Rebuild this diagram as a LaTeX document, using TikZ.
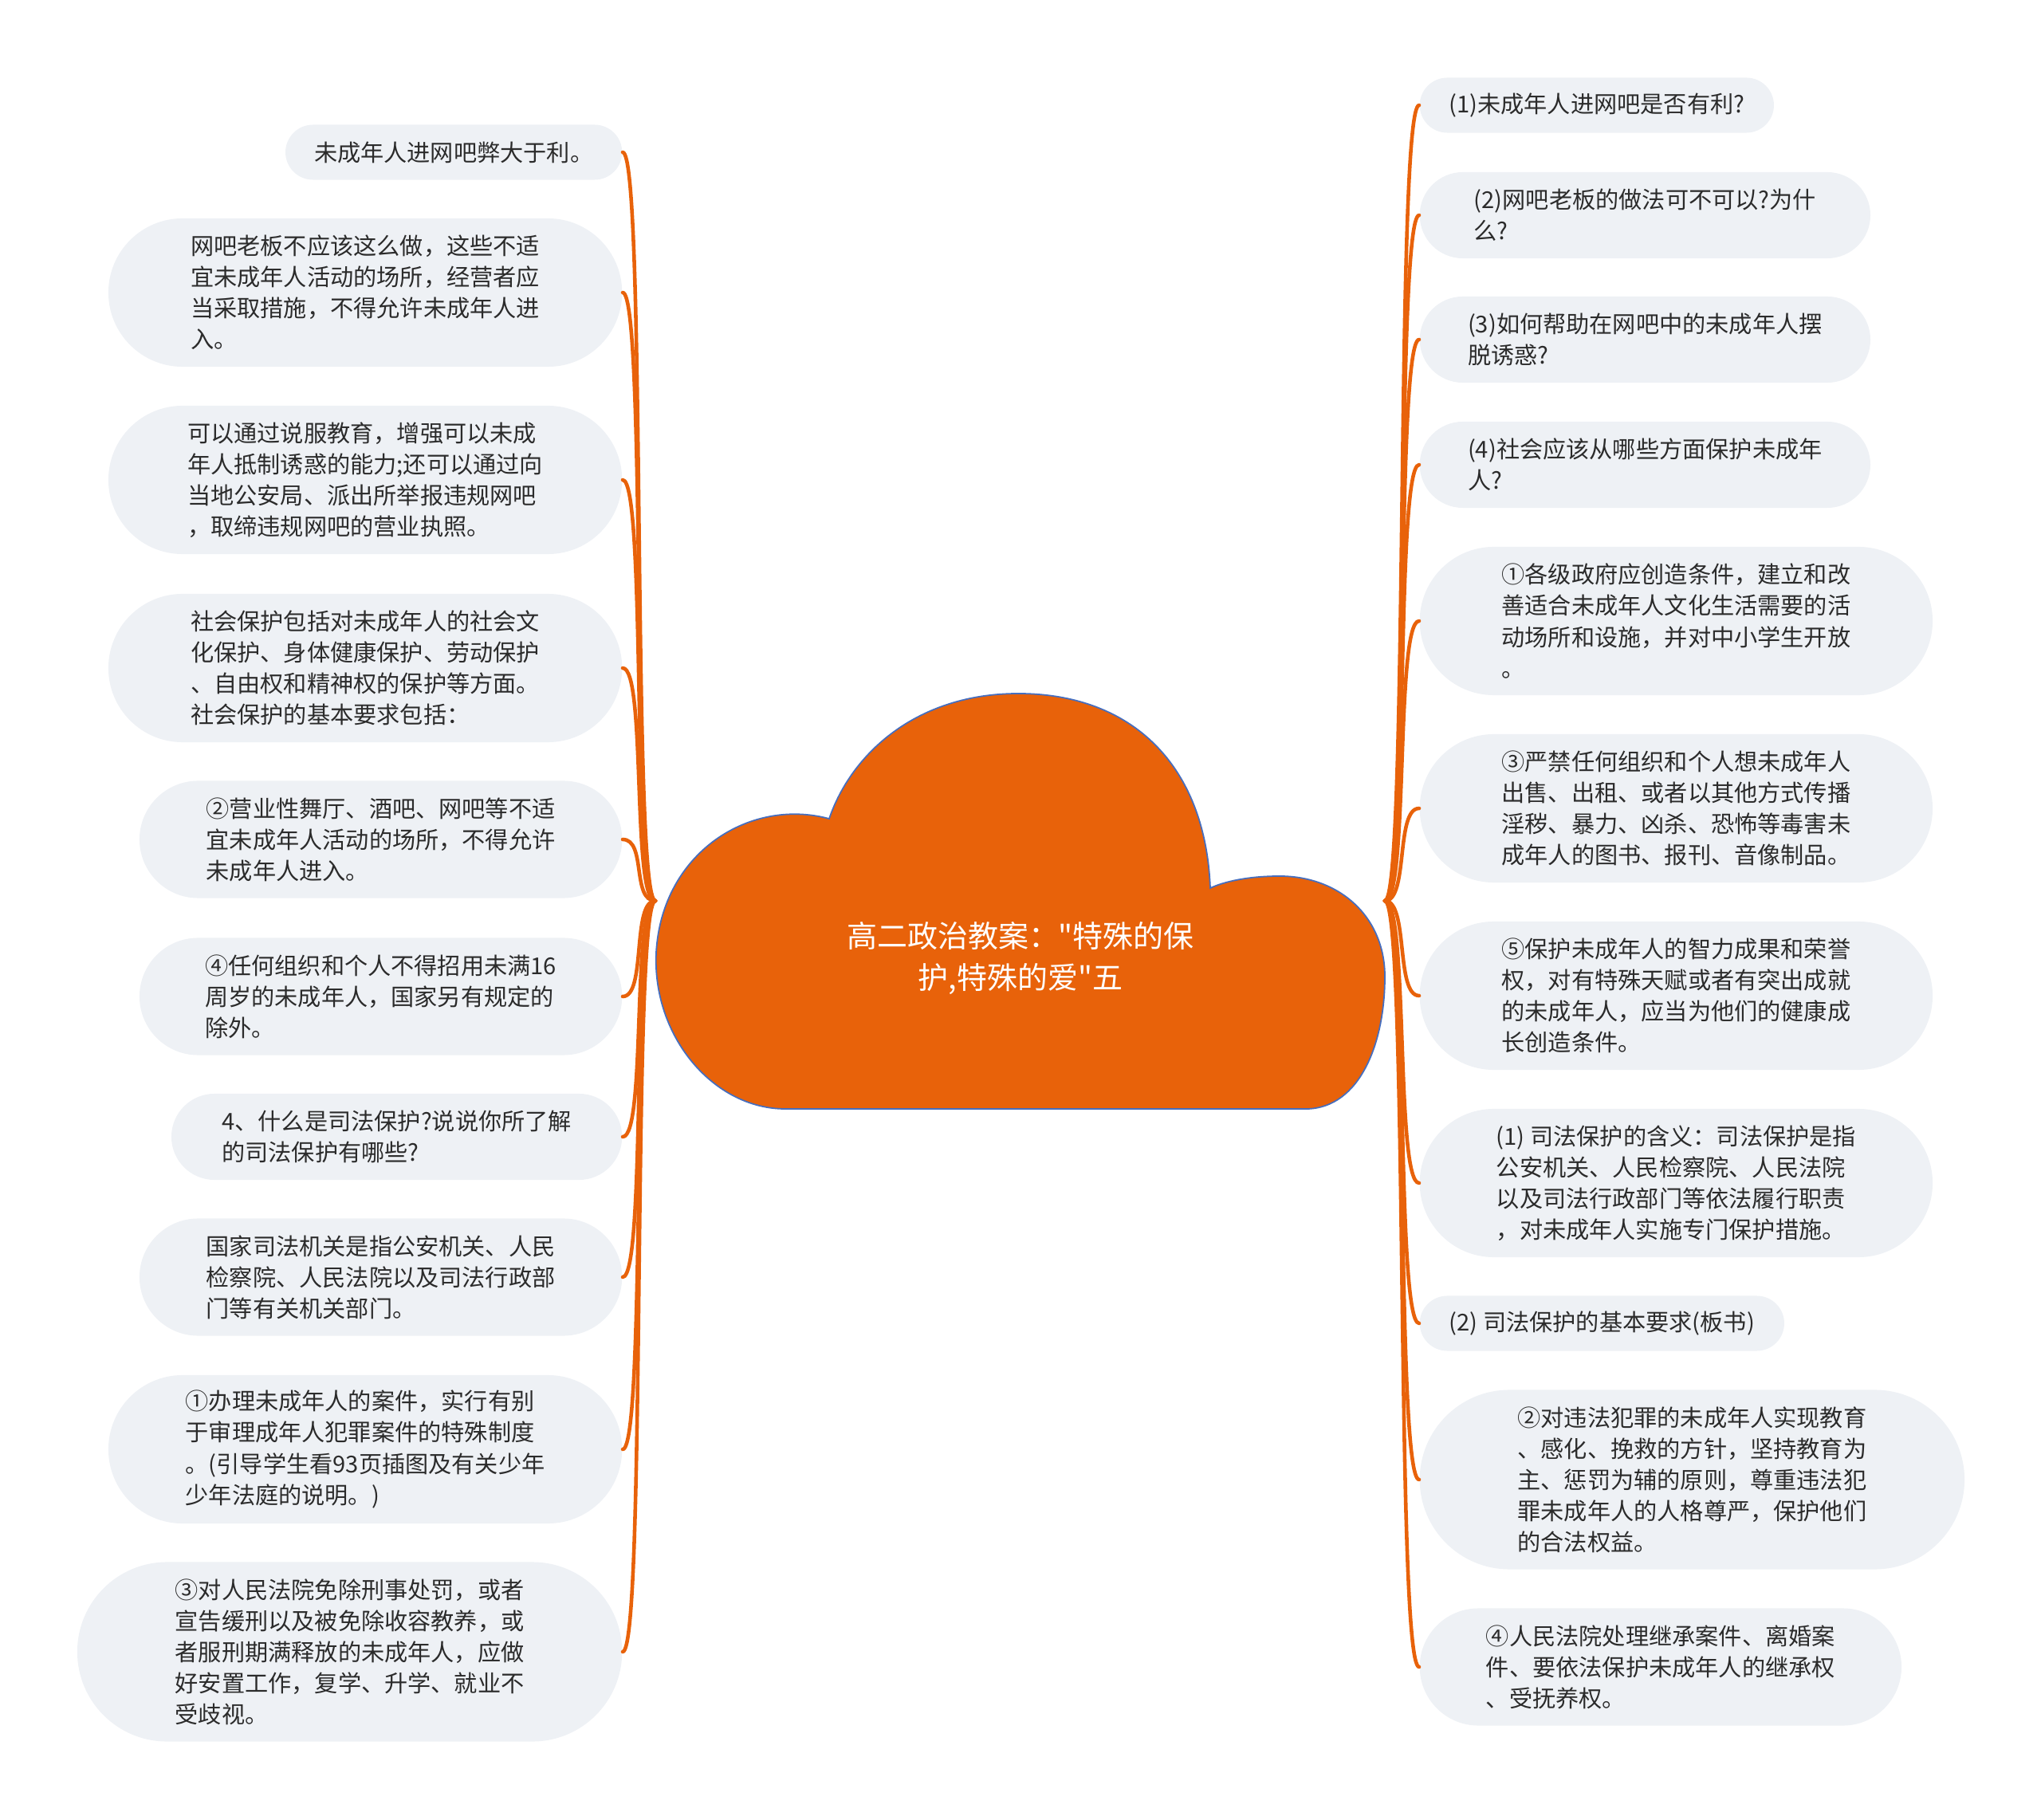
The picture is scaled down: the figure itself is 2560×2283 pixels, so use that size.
\documentclass[tikz,border=0pt]{standalone}
\usepackage{fontspec}
\newfontfamily\cjk{Noto Sans CJK SC}
\usetikzlibrary{shapes.misc}
\definecolor{naranja}{RGB}{232,98,10}
\definecolor{fondohoja}{RGB}{238,241,245}
\definecolor{texto}{RGB}{43,43,43}
\definecolor{borde}{RGB}{70,110,190}
\tikzset{
  hoja/.style={rounded rectangle, fill=fondohoja, draw=none, text=texto, align=left,
    inner sep=0pt, font=\cjk\fontsize{8.3pt}{11.1pt}\selectfont},
  n1/.style={minimum height=0.69cm},
  n2/.style={minimum height=1.08cm},
  n3/.style={minimum height=1.47cm},
  n4/.style={minimum height=1.86cm},
  n5/.style={minimum height=2.25cm},
  enlace/.style={draw=naranja, line width=1.3pt, line cap=round},
  titulo/.style={text=white, align=center, font=\cjk\fontsize{10.8pt}{14.8pt}\selectfont}
}
\begin{document}
\begin{tikzpicture}[x=0.01cm, y=-0.01cm]
    \useasboundingbox (0,0) rectangle (2560,2283);

    % Puntos de salida
    \coordinate (hubL) at (822,1130);
    \coordinate (hubR) at (1737,1130);

    % Hojas izquierdas
    \node[hoja, n1, anchor=east, minimum width=4.22cm] (l1) at (781,191) {未成年人进网吧弊大于利。};
    \node[hoja, n4, anchor=east, minimum width=6.44cm] (l2) at (781,367) {网吧老板不应该这么做，这些不适\\宜未成年人活动的场所，经营者应\\当采取措施，不得允许未成年人进\\入。};
    \node[hoja, n4, anchor=east, minimum width=6.44cm] (l3) at (781,602) {可以通过说服教育，增强可以未成\\年人抵制诱惑的能力;还可以通过向\\当地公安局、派出所举报违规网吧\\，取缔违规网吧的营业执照。};
    \node[hoja, n4, anchor=east, minimum width=6.44cm] (l4) at (781,838) {社会保护包括对未成年人的社会文\\化保护、身体健康保护、劳动保护\\、自由权和精神权的保护等方面。\\社会保护的基本要求包括：};
    \node[hoja, n3, anchor=east, minimum width=6.05cm] (l5) at (781,1053) {②营业性舞厅、酒吧、网吧等不适\\宜未成年人活动的场所，不得允许\\未成年人进入。};
    \node[hoja, n3, anchor=east, minimum width=6.05cm] (l6) at (781,1250) {④任何组织和个人不得招用未满16\\周岁的未成年人，国家另有规定的\\除外。};
    \node[hoja, n2, anchor=east, minimum width=5.65cm] (l7) at (781,1426) {4、什么是司法保护?说说你所了解\\的司法保护有哪些?};
    \node[hoja, n3, anchor=east, minimum width=6.05cm] (l8) at (781,1602) {国家司法机关是指公安机关、人民\\检察院、人民法院以及司法行政部\\门等有关机关部门。};
    \node[hoja, n4, anchor=east, minimum width=6.44cm] (l9) at (781,1818) {①办理未成年人的案件，实行有别\\于审理成年人犯罪案件的特殊制度\\。(引导学生看93页插图及有关少年\\少年法庭的说明。)};
    \node[hoja, n5, anchor=east, minimum width=6.83cm] (l10) at (781,2072) {③对人民法院免除刑事处罚，或者\\宣告缓刑以及被免除收容教养，或\\者服刑期满释放的未成年人，应做\\好安置工作，复学、升学、就业不\\受歧视。};

    % Hojas derechas
    \node[hoja, n1, anchor=west, minimum width=4.44cm] (r1) at (1780,132) {(1)未成年人进网吧是否有利?};
    \node[hoja, n2, anchor=west, minimum width=5.65cm] (r2) at (1780,270) {(2)网吧老板的做法可不可以?为什\\么?};
    \node[hoja, n2, anchor=west, minimum width=5.65cm] (r3) at (1780,426) {(3)如何帮助在网吧中的未成年人摆\\脱诱惑?};
    \node[hoja, n2, anchor=west, minimum width=5.65cm] (r4) at (1780,583) {(4)社会应该从哪些方面保护未成年\\人?};
    \node[hoja, n4, anchor=west, minimum width=6.43cm] (r5) at (1780,779) {①各级政府应创造条件，建立和改\\善适合未成年人文化生活需要的活\\动场所和设施，并对中小学生开放\\。};
    \node[hoja, n4, anchor=west, minimum width=6.43cm] (r6) at (1780,1014) {③严禁任何组织和个人想未成年人\\出售、出租、或者以其他方式传播\\淫秽、暴力、凶杀、恐怖等毒害未\\成年人的图书、报刊、音像制品。};
    \node[hoja, n4, anchor=west, minimum width=6.43cm] (r7) at (1780,1249) {⑤保护未成年人的智力成果和荣誉\\权，对有特殊天赋或者有突出成就\\的未成年人，应当为他们的健康成\\长创造条件。};
    \node[hoja, n4, anchor=west, minimum width=6.43cm] (r8) at (1780,1484) {(1) 司法保护的含义：司法保护是指\\公安机关、人民检察院、人民法院\\以及司法行政部门等依法履行职责\\，对未成年人实施专门保护措施。};
    \node[hoja, n1, anchor=west, minimum width=4.57cm] (r9) at (1780,1660) {(2) 司法保护的基本要求(板书)};
    \node[hoja, n5, anchor=west, minimum width=6.83cm] (r10) at (1780,1856) {②对违法犯罪的未成年人实现教育\\、感化、挽救的方针，坚持教育为\\主、惩罚为辅的原则，尊重违法犯\\罪未成年人的人格尊严，保护他们\\的合法权益。};
    \node[hoja, n3, anchor=west, minimum width=6.04cm] (r11) at (1780,2091) {④人民法院处理继承案件、离婚案\\件、要依法保护未成年人的继承权\\、受抚养权。};

    % Enlaces izquierdos
    \draw[enlace] (hubL) .. controls +(-30,0) and +(30,0) .. (l1.east);
    \draw[enlace] (hubL) .. controls +(-30,0) and +(30,0) .. (l2.east);
    \draw[enlace] (hubL) .. controls +(-30,0) and +(30,0) .. (l3.east);
    \draw[enlace] (hubL) .. controls +(-30,0) and +(30,0) .. (l4.east);
    \draw[enlace] (hubL) .. controls +(-30,0) and +(30,0) .. (l5.east);
    \draw[enlace] (hubL) .. controls +(-30,0) and +(30,0) .. (l6.east);
    \draw[enlace] (hubL) .. controls +(-30,0) and +(30,0) .. (l7.east);
    \draw[enlace] (hubL) .. controls +(-30,0) and +(30,0) .. (l8.east);
    \draw[enlace] (hubL) .. controls +(-30,0) and +(30,0) .. (l9.east);
    \draw[enlace] (hubL) .. controls +(-30,0) and +(30,0) .. (l10.east);

    % Enlaces derechos
    \draw[enlace] (hubR) .. controls +(30,0) and +(-30,0) .. (r1.west);
    \draw[enlace] (hubR) .. controls +(30,0) and +(-30,0) .. (r2.west);
    \draw[enlace] (hubR) .. controls +(30,0) and +(-30,0) .. (r3.west);
    \draw[enlace] (hubR) .. controls +(30,0) and +(-30,0) .. (r4.west);
    \draw[enlace] (hubR) .. controls +(30,0) and +(-30,0) .. (r5.west);
    \draw[enlace] (hubR) .. controls +(30,0) and +(-30,0) .. (r6.west);
    \draw[enlace] (hubR) .. controls +(30,0) and +(-30,0) .. (r7.west);
    \draw[enlace] (hubR) .. controls +(30,0) and +(-30,0) .. (r8.west);
    \draw[enlace] (hubR) .. controls +(30,0) and +(-30,0) .. (r9.west);
    \draw[enlace] (hubR) .. controls +(30,0) and +(-30,0) .. (r10.west);
    \draw[enlace] (hubR) .. controls +(30,0) and +(-30,0) .. (r11.west);

    % Nube central
    \filldraw[fill=naranja, draw=borde, line width=0.5pt]
      (985,1391) -- (1640,1391)
      .. controls (1705,1389) and (1737,1310) .. (1737,1225)
      .. controls (1737,1150) and (1680,1099) .. (1605,1099)
      .. controls (1565,1099) and (1535,1106) .. (1518,1114)
      .. controls (1512,960) and (1420,870) .. (1277,870)
      .. controls (1150,870) and (1068,945) .. (1040,1027)
      .. controls (940,1000) and (830,1070) .. (823,1195)
      .. controls (818,1300) and (895,1391) .. (985,1391) -- cycle;
    \node[titulo] (raiz) at (1280,1202) {高二政治教案："特殊的保\\护,特殊的爱"五};
\end{tikzpicture}
\end{document}
